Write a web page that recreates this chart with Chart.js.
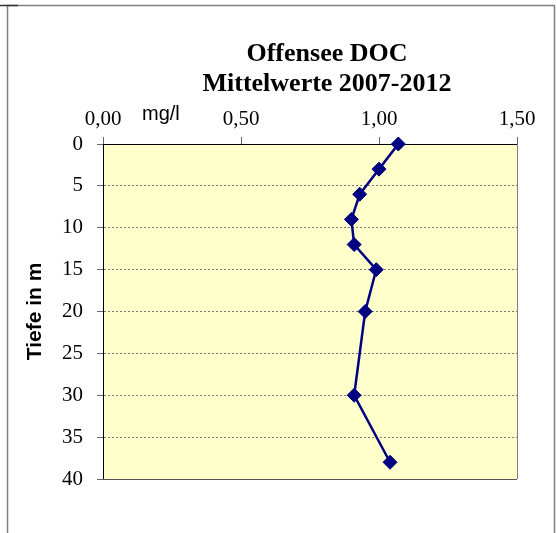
<!DOCTYPE html>
<html><head><meta charset="utf-8">
<script src="https://cdn.jsdelivr.net/npm/chart.js@4.4.0/dist/chart.umd.min.js"></script>
<style>html,body{margin:0;padding:0;background:#fff;overflow:hidden;}#wrap{width:557px;height:533px;position:relative;}</style>
</head><body><div id="wrap"><canvas id="c" width="557" height="533"></canvas></div>
<script>
const depths = [0, 3, 6, 9, 12, 15, 20, 30, 38];
const docValues = [1.07, 1.00, 0.93, 0.90, 0.91, 0.99, 0.95, 0.91, 1.04];
const xTickValues = [0, 0.5, 1.0, 1.5];
const yTickValues = [0, 5, 10, 15, 20, 25, 30, 35, 40];
const titleLines = ['Offensee DOC', 'Mittelwerte 2007-2012'];
const unitLabel = 'mg/l';
const depthTitle = 'Tiefe in m';

const points = depths.map((d, i) => ({x: docValues[i], y: d}));

const decor = {
  id: 'decor',
  beforeDraw(chart) {
    const {ctx, chartArea: a} = chart;
    ctx.save();
    ctx.fillStyle = '#ffffff';
    ctx.fillRect(0, 0, chart.width, chart.height);
    ctx.fillStyle = '#FFFFCC';
    ctx.fillRect(a.left, a.top, a.right - a.left, a.bottom - a.top);
    // outer frame
    ctx.strokeStyle = '#808080';
    ctx.lineWidth = 1.5;
    ctx.beginPath();
    ctx.moveTo(7.5, chart.height + 2);
    ctx.lineTo(7.5, 5.5);
    ctx.lineTo(554.5, 5.5);
    ctx.lineTo(554.5, chart.height + 2);
    ctx.stroke();
    ctx.strokeStyle = '#333';
    ctx.beginPath();
    ctx.moveTo(0, 5.5);
    ctx.lineTo(18, 5.5);
    ctx.stroke();
    ctx.restore();
  },
  beforeDatasetsDraw(chart) {
    const {ctx, chartArea: a} = chart;
    ctx.save();
    ctx.lineWidth = 1;
    ctx.strokeStyle = '#808080';
    ctx.beginPath();
    ctx.moveTo(Math.round(a.right) + 0.5, a.top);
    ctx.lineTo(Math.round(a.right) + 0.5, a.bottom);
    ctx.stroke();
    ctx.strokeStyle = '#555';
    ctx.beginPath();
    ctx.moveTo(a.left, Math.round(a.bottom) + 0.5);
    ctx.lineTo(a.right, Math.round(a.bottom) + 0.5);
    ctx.stroke();
    ctx.restore();
  },
  afterDraw(chart) {
    const {ctx} = chart;
    ctx.save();
    ctx.fillStyle = '#000';
    ctx.textAlign = 'center';
    ctx.textBaseline = 'alphabetic';
    ctx.font = 'bold 26px "Liberation Serif"';
    ctx.fillText(titleLines[0], 327, 61);
    ctx.fillText(titleLines[1], 327, 91);
    ctx.textAlign = 'left';
    ctx.font = '20px "Liberation Sans"';
    ctx.fillText(unitLabel, 142, 120);
    ctx.restore();
  }
};

new Chart(document.getElementById('c'), {
  type: 'scatter',
  data: {
    datasets: [{
      data: points,
      showLine: true,
      borderColor: '#000080',
      backgroundColor: '#000080',
      borderWidth: 2.5,
      pointStyle: 'rectRot',
      pointRadius: 7,
      pointBorderWidth: 1,
      pointBorderColor: '#000080',
      pointBackgroundColor: '#000080',
      clip: false,
      tension: 0
    }]
  },
  options: {
    responsive: false,
    devicePixelRatio: 1,
    animation: false,
    layout: {padding: {left: 0, right: 40, top: 0, bottom: 54}},
    plugins: {legend: {display: false}, tooltip: {enabled: false}, title: {display: false}},
    scales: {
      x: {
        type: 'linear',
        position: 'top',
        min: 0, max: 1.5,
        afterBuildTicks: s => { s.ticks = xTickValues.map(v => ({value: v})); },
        afterFit: s => { s.height = 144; },
        ticks: {
          callback: v => Number(v).toFixed(2).replace('.', ','),
          font: {family: 'Liberation Serif', size: 21},
          color: '#000',
          padding: 5,
          maxRotation: 0
        },
        grid: {drawOnChartArea: false, drawTicks: true, tickLength: 7, tickColor: '#666', color: '#666'},
        border: {color: '#000', width: 1}
      },
      y: {
        type: 'linear',
        position: 'left',
        reverse: true,
        min: 0, max: 40,
        afterBuildTicks: s => { s.ticks = yTickValues.map(v => ({value: v})); },
        afterFit: s => { s.width = 103; },
        ticks: {
          font: {family: 'Liberation Serif', size: 21},
          color: '#000',
          padding: 14
        },
        grid: {color: '#7a7a7a', tickColor: '#666', tickLength: 6, lineWidth: 1},
        border: {color: '#000', width: 1, dash: [2, 2]},
        title: {
          display: true,
          text: depthTitle,
          font: {family: 'Liberation Sans', size: 21, weight: 'bold'},
          color: '#000',
          padding: {top: 23, bottom: 0}
        }
      }
    }
  },
  plugins: [decor]
});
</script>
</body></html>
